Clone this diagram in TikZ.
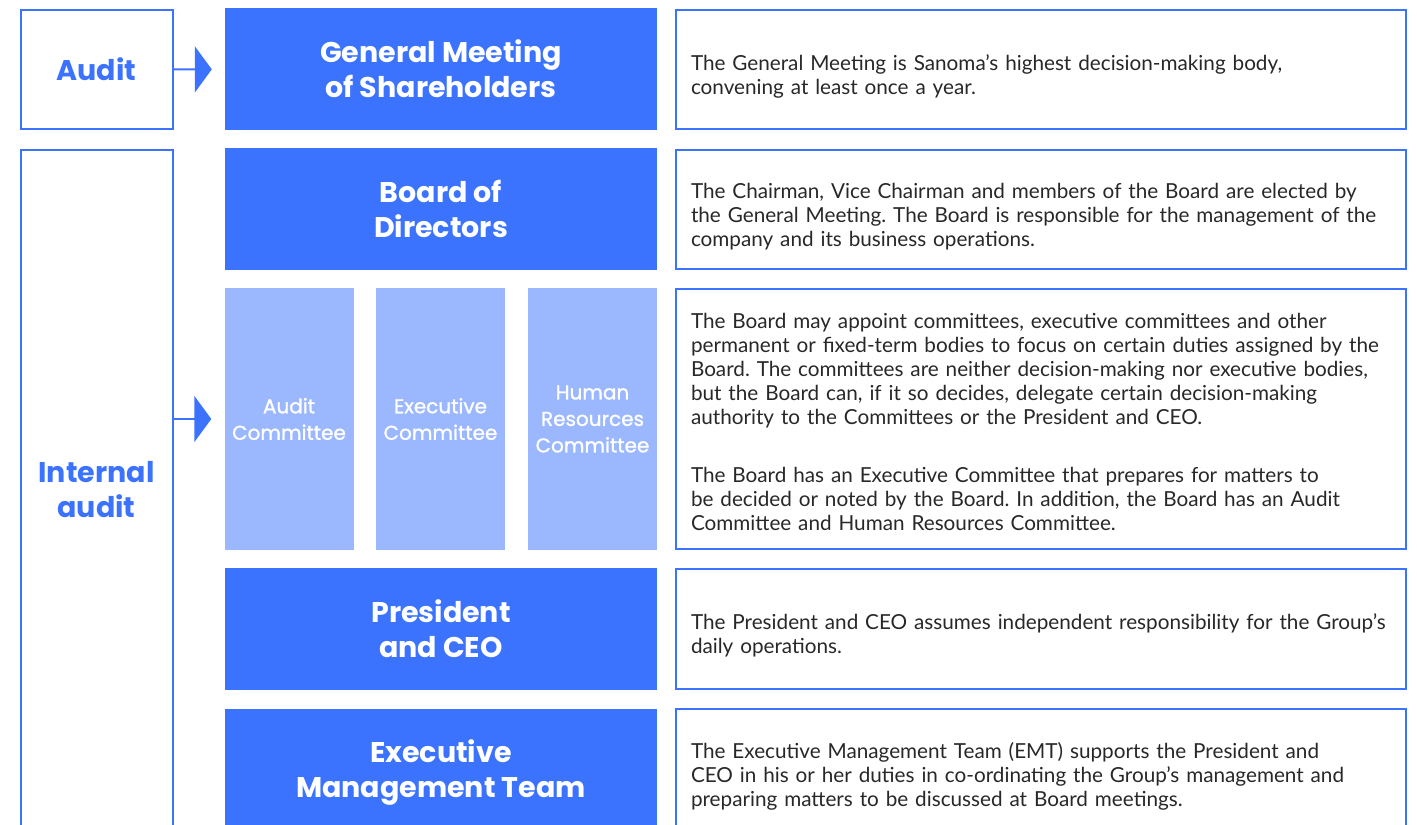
\documentclass[tikz,border=0pt]{standalone}
\usepackage{fontspec}
\setmainfont{Lato}
\newfontfamily\headfont{Poppins}
\newfontfamily\comfont{Poppins}[FakeBold=1.2]
\usetikzlibrary{arrows.meta,positioning,calc}
\definecolor{sanblue}{RGB}{59,115,255}
\definecolor{sanlight}{RGB}{155,184,255}
\definecolor{santext}{RGB}{40,40,40}
\frenchspacing
\begin{document}
\begin{tikzpicture}[
		x=1pt, y=-1pt,
		bluebox/.style={
				fill=sanblue,
				text=white,
				minimum width=432pt,
				minimum height=122pt,
				align=center,
				inner sep=0pt,
				font=\headfont\bfseries\fontsize{28.5}{35}\selectfont
			},
		combox/.style={
				fill=sanlight,
				text=white,
				minimum width=129pt,
				minimum height=262pt,
				align=center,
				inner sep=0pt,
				font=\comfont\fontsize{20}{26.5}\selectfont
			},
		descbox/.style={
				draw=sanblue,
				line width=2pt,
				minimum width=730pt,
				inner sep=0pt
			},
		desctext/.style={
				align=left,
				text width=700pt,
				inner sep=0pt,
				yshift=-7pt,
				text=santext,
				font=\fontsize{20.7}{24}\selectfont
			},
		sidebox/.style={
				draw=sanblue,
				line width=2pt,
				minimum width=152pt,
				align=center,
				inner sep=0pt,
				text=sanblue,
				font=\headfont\bfseries\fontsize{28.5}{35}\selectfont
			},
		linkarrow/.style={
				sanblue,
				line width=2pt,
				-{Triangle[length=17pt,width=46pt]},
				shorten >=13pt
			}
	]
	\clip (0,0) rectangle (1417,825);
	\fill[white] (0,0) rectangle (1417,825);

	% left column
	\node[sidebox, minimum height=119pt] (audit) at (96.5,69.5) {Audit};
	\node[sidebox, minimum height=720pt] (intaudit) at (96.5,510) {};
	\node[text=sanblue, align=center, font=\headfont\bfseries\fontsize{28.5}{35}\selectfont] (intlabel) at (96.5,490) {Internal\\audit};

	% middle column
	\node[bluebox] (gm) at (441,69) {General Meeting\\of Shareholders};
	\node[bluebox] (board) at (441,209) {Board of\\Directors};
	\node[combox] (auditcom) at (289,419) {Audit\\Committee};
	\node[combox] (execcom) at (440.5,419) {Executive\\Committee};
	\node[combox] (hrcom) at (592.5,419) {Human\\Resources\\Committee};
	\node[bluebox] (ceo) at (441,629) {President\\and CEO};
	\node[bluebox, minimum height=126pt] (emt) at (441,772) {Executive\\Management Team};

	% right column
	\node[descbox, minimum height=119pt] (gmdesc) at (1041,69.5) {};
	\node[descbox, minimum height=119pt] (boarddesc) at (1041,209.5) {};
	\node[descbox, minimum height=260pt] (comdesc) at (1041,419) {};
	\node[descbox, minimum height=120pt] (ceodesc) at (1041,629) {};
	\node[descbox, minimum height=130pt] (emtdesc) at (1041,774) {};

	\node[desctext] (gmtext) at (gmdesc.center) {The General Meeting is Sanoma’s highest decision-making body,\\convening at least once a year.};
	\node[desctext] (boardtext) at (boarddesc.center) {The Chairman, Vice Chairman and members of the Board are elected by\\the General Meeting. The Board is responsible for the management of the\\company and its business operations.};
	\node[desctext, yshift=4pt] (comtext) at (comdesc.center) {The Board may appoint committees, executive committees and other\\permanent or fixed-term bodies to focus on certain duties assigned by the\\Board. The committees are neither decision-making nor executive bodies,\\but the Board can, if it so decides, delegate certain decision-making\\authority to the Committees or the President and CEO.\\[34pt]The Board has an Executive Committee that prepares for matters to\\be decided or noted by the Board. In addition, the Board has an Audit\\Committee and Human Resources Committee.};
	\node[desctext, yshift=1pt] (ceotext) at (ceodesc.center) {The President and CEO assumes independent responsibility for the Group’s\\daily operations.};
	\node[desctext, yshift=5pt] (emttext) at (emtdesc.center) {The Executive Management Team (EMT) supports the President and\\CEO in his or her duties in co-ordinating the Group’s management and\\preparing matters to be discussed at Board meetings.};

	\draw[linkarrow] (audit) -- (gm);
	\draw[linkarrow] (intaudit.east |- auditcom.west) -- (auditcom.west);
\end{tikzpicture}
\end{document}
